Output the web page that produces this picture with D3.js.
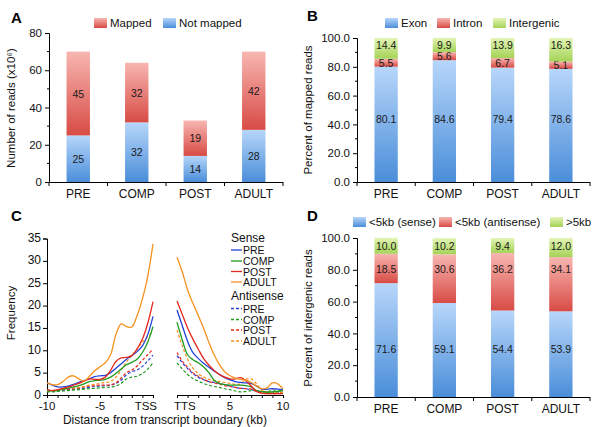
<!DOCTYPE html>
<html><head><meta charset="utf-8">
<script src="https://cdn.jsdelivr.net/npm/d3@7"></script>
<style>
html,body{margin:0;padding:0;background:#fff;}
svg{font-family:"Liberation Sans",Arial,sans-serif;}
</style></head>
<body><svg id="c" width="600" height="427"></svg>
<script>
// ---------- DATA ----------
const categories = ["PRE","COMP","POST","ADULT"];
// Panel A (x10^6 reads)
const notMapped = [25,32,14,28];
const mapped    = [45,32,19,42];
const ticksA = [0,20,40,60,80];
// Panel B (% of mapped reads)
const exon       = [80.1,84.6,79.4,78.6];
const intron     = [5.5,5.6,6.7,5.1];
const intergenic = [14.4,9.9,13.9,16.3];
const ticksPct = [0,20,40,60,80,100];
// Panel D (% of intergenic reads)
const senseNear     = [71.6,59.1,54.4,53.9];
const antisenseNear = [18.5,30.6,36.2,34.1];
const far5kb        = [10.0,10.2,9.4,12.0];
// Panel C (frequency), positions in kb
const kbLeft  = [-10,-9.5,-9,-8.5,-8,-7.5,-7,-6.5,-6,-5.5,-5,-4.5,-4,-3.5,-3,-2.5,-2,-1.5,-1,-0.5,0];
const kbRight = [0,0.5,1,1.5,2,2.5,3,3.5,4,4.5,5,5.5,6,6.5,7,7.5,8,8.5,9,9.5,10];
const senseLeft = {
  PRE:   [2.8,2.2,1.8,1.8,2.0,2.4,2.8,3.2,3.6,4.1,4.3,4.4,5.0,6.0,7.0,8.0,8.8,9.7,11.0,13.5,17.6],
  COMP:  [1.0,0.9,1.0,1.3,1.5,1.8,2.1,2.5,3.0,3.2,3.3,3.5,4.0,4.8,5.8,6.8,7.3,8.0,9.5,11.8,15.3],
  POST:  [1.2,1.0,1.2,1.5,1.8,2.2,2.6,3.1,3.6,3.5,3.5,4.0,5.5,7.5,8.3,8.4,8.8,10.3,12.5,16.0,20.9],
  ADULT: [2.7,2.3,2.3,3.0,4.0,4.3,3.6,3.1,4.2,5.4,6.3,7.2,9.0,13.5,15.9,15.3,15.2,17.8,21.5,26.5,33.8]
};
const antiLeft = {
  PRE:   [0.8,0.9,1.0,1.1,1.2,1.3,1.4,1.5,1.7,1.9,2.0,2.1,2.2,2.6,3.3,4.5,5.2,5.6,6.4,7.6,8.9],
  COMP:  [0.7,0.7,0.8,0.9,1.0,1.1,1.2,1.3,1.4,1.5,1.6,1.7,1.8,2.0,2.6,3.6,4.0,4.2,4.8,5.8,7.2],
  POST:  [1.1,1.0,1.1,1.2,1.3,1.4,1.6,1.8,2.0,2.1,2.2,2.2,2.3,2.7,3.8,5.0,5.6,6.5,7.8,9.0,10.3],
  ADULT: [1.0,1.0,1.1,1.3,1.5,1.6,1.7,1.9,2.2,2.4,2.6,2.8,3.0,4.0,5.6,7.4,8.8,10.3,11.8,13.0,14.2]
};
const senseRight = {
  PRE:   [19.0,15.5,12.0,9.5,8.2,7.1,6.2,5.4,4.6,3.9,3.4,3.0,2.8,2.7,2.6,2.0,1.3,1.3,1.4,1.3,1.2],
  COMP:  [16.3,12.3,9.0,7.9,7.2,6.3,5.0,3.3,2.6,2.3,2.2,2.2,2.2,2.1,1.8,1.0,0.7,0.6,0.7,0.8,1.0],
  POST:  [21.0,18.0,15.0,12.5,10.3,8.2,6.7,5.5,4.6,4.0,3.6,3.6,3.9,3.2,2.0,0.8,0.4,0.3,0.3,0.3,0.3],
  ADULT: [30.8,27.5,23.5,20.5,17.8,15.0,11.8,9.0,6.8,5.2,4.3,3.8,3.5,3.3,2.8,2.0,1.4,1.6,2.7,2.5,1.3]
};
const antiRight = {
  PRE:   [8.8,7.2,5.9,4.8,4.0,3.4,3.0,2.8,2.6,2.3,2.0,1.7,1.5,1.4,1.2,1.0,0.8,0.7,0.6,0.6,0.6],
  COMP:  [7.2,5.8,4.6,3.7,3.1,2.6,2.2,1.9,1.7,1.4,1.2,0.9,0.7,0.8,1.0,0.9,0.8,0.8,0.9,0.9,1.0],
  POST:  [9.5,7.6,6.2,5.0,4.2,3.5,3.0,2.7,2.4,2.1,1.9,1.7,1.5,1.4,1.3,0.8,0.4,0.3,0.3,0.3,0.3],
  ADULT: [14.5,11.0,8.0,6.0,4.8,4.0,3.5,3.2,3.0,2.8,2.6,2.4,2.5,3.5,3.6,2.5,1.0,0.6,0.6,0.6,0.6]
};
const ticksC = [0,5,10,15,20,25,30,35];
const boundaryLabels = ["TSS","TTS"];

// ---------- STYLE ----------
const lineColors = {PRE:"#2342d6",COMP:"#1e9a1e",POST:"#e5281e",ADULT:"#f5921f"};
const grad = {
  blue:  ["#b7d6fa","#4a8ed9"],
  red:   ["#f8b6b1","#d84b45"],
  green: ["#e3f5b5","#a5d257"]
};
const svg = d3.select("#c");
const defs = svg.append("defs");
Object.entries(grad).forEach(([k,[top,bot]])=>{
  const g = defs.append("linearGradient").attr("id","g-"+k).attr("x1",0).attr("y1",0).attr("x2",0).attr("y2",1);
  g.append("stop").attr("offset","0%").attr("stop-color",top);
  g.append("stop").attr("offset","100%").attr("stop-color",bot);
});
const FONT_TICK = 11.5, FONT_LBL = 10.5;
const FF = "Liberation Sans, Arial, sans-serif";

function panelLetter(t,x,y){
  svg.append("text").attr("x",x).attr("y",y).attr("font-size",15).attr("font-weight","bold").text(t);
}
function yTitle(t,x,y){
  svg.append("text").attr("transform",`translate(${x},${y}) rotate(-90)`).attr("text-anchor","middle")
    .attr("font-size",11.5).attr("fill","#111").text(t);
}
function legend(items,y){
  items.forEach(it=>{
    svg.append("rect").attr("x",it.x).attr("y",y-5).attr("width",13).attr("height",10).attr("fill",`url(#g-${it.c})`);
    svg.append("text").attr("x",it.x+16).attr("y",y+4).attr("font-size",11.5).attr("fill","#111").text(it.t);
  });
}

// stacked bar panel
function barPanel(opt){
  const x = d3.scaleBand().domain(categories).range([opt.x0,opt.x1]).paddingInner(0.6).paddingOuter(0.3);
  const y = d3.scaleLinear().domain([0,opt.max]).range([opt.y0,opt.y1]);
  const g = svg.append("g");
  const step = x.step();
  categories.forEach((c,i)=>{
    let base = 0;
    opt.series.forEach(s=>{
      const v = s.values[i];
      g.append("rect").attr("x",x(c)).attr("width",x.bandwidth())
        .attr("y",y(base+v)).attr("height",y(base)-y(base+v)).attr("fill",`url(#g-${s.c})`);
      const ly = s.labelAt!=null ? y(s.labelAt) : y(base+v/2);
      g.append("text").attr("x",x(c)+x.bandwidth()/2).attr("y",ly+4).attr("text-anchor","middle")
        .attr("font-size",FONT_LBL).attr("fill","#1a1a1a").text(opt.fmt(v));
      base += v;
    });
  });
  const ya = d3.axisLeft(y).tickValues(opt.ticks).tickFormat(opt.tickFmt).tickSize(4).tickPadding(3);
  const ag = svg.append("g").attr("transform",`translate(${opt.x0},0)`).call(ya);
  ag.selectAll("text").attr("font-size",FONT_TICK).attr("fill","#111").attr("font-family",FF);
  d3.range(opt.minor, opt.max, opt.minor*2).forEach(v=>{
    svg.append("line").attr("x1",opt.x0-2).attr("x2",opt.x0).attr("y1",y(v)).attr("y2",y(v)).attr("stroke","#000");
  });
  svg.append("line").attr("x1",opt.x0).attr("x2",opt.x1).attr("y1",opt.y0+0.5).attr("y2",opt.y0+0.5).attr("stroke","#000");
  for(let i=0;i<=categories.length;i++){
    const bx = opt.x0 + i*step;
    svg.append("line").attr("x1",bx).attr("x2",bx).attr("y1",opt.y0).attr("y2",opt.y0+4).attr("stroke","#000");
  }
  categories.forEach(c=>{
    svg.append("text").attr("x",x(c)+x.bandwidth()/2).attr("y",opt.y0+16).attr("text-anchor","middle")
      .attr("font-size",12).attr("fill","#111").text(c);
  });
}

// Panel A
panelLetter("A",11,23);
legend([{x:94,c:"red",t:"Mapped"},{x:163,c:"blue",t:"Not mapped"}],23);
yTitle("Number of reads (x10\u2076)",15,108);
barPanel({x0:49,x1:283,y0:182,y1:33,max:80,ticks:ticksA,tickFmt:d3.format("d"),minor:10,fmt:d3.format("d"),
  series:[{values:notMapped,c:"blue"},{values:mapped,c:"red"}]});

// Panel B
panelLetter("B",307,21);
legend([{x:385,c:"blue",t:"Exon"},{x:437,c:"red",t:"Intron"},{x:493,c:"green",t:"Intergenic"}],23);
yTitle("Percent of mapped reads",312,110);
barPanel({x0:357,x1:590,y0:182,y1:38,max:100,ticks:ticksPct,tickFmt:d3.format(".1f"),minor:10,fmt:d3.format(".1f"),
  series:[{values:exon,c:"blue",labelAt:44},{values:intron,c:"red"},{values:intergenic,c:"green",labelAt:95.3}]});

// Panel D
panelLetter("D",307,221);
legend([{x:353,c:"blue",t:"<5kb (sense)"},{x:439,c:"red",t:"<5kb (antisense)"},{x:550,c:"green",t:">5kb"}],222);
yTitle("Percent of intergenic reads",312,318);
barPanel({x0:357,x1:590,y0:397,y1:238,max:100,ticks:ticksPct,tickFmt:d3.format(".1f"),minor:10,fmt:d3.format(".1f"),
  series:[{values:senseNear,c:"blue",labelAt:30.5},{values:antisenseNear,c:"red",labelAt:80.4},{values:far5kb,c:"green",labelAt:95}]});

// Panel C
panelLetter("C",11,221);
yTitle("Frequency",15,313);
const yC = d3.scaleLinear().domain([0,35]).range([395,238.5]);
const xL = d3.scaleLinear().domain([-10,0]).range([47,153]);
const xR = d3.scaleLinear().domain([0,10]).range([177,283]);
const yAx = svg.append("g").attr("transform","translate(47,0)")
  .call(d3.axisLeft(yC).tickValues(ticksC).tickSize(4).tickPadding(2));
yAx.selectAll("text").attr("font-size",FONT_TICK+0.5).attr("fill","#111").attr("font-family",FF).attr("dy","0.25em");
const XLBL_Y = 409.5, XLBL_F = 11.5;
const xLa = svg.append("g").attr("transform","translate(0,395)")
  .call(d3.axisBottom(xL).tickValues(d3.range(-10,1,1)).tickSize(3).tickFormat(""));
const xRa = svg.append("g").attr("transform","translate(0,395)")
  .call(d3.axisBottom(xR).tickValues(d3.range(0,11,1)).tickSize(3).tickFormat(""));
[[xL,-10,"-10"],[xL,-5,"-5"],[xR,5,"5"],[xR,10,"10"]].forEach(([sc,v,t])=>{
  svg.append("text").attr("x",sc(v)).attr("y",XLBL_Y).attr("text-anchor","middle").attr("font-size",XLBL_F).attr("fill","#111").text(t);
});
svg.append("text").attr("x",xL(0)+4).attr("y",XLBL_Y).attr("text-anchor","end").attr("font-size",XLBL_F).attr("fill","#111").text(boundaryLabels[0]);
svg.append("text").attr("x",xR(0)-3).attr("y",XLBL_Y).attr("text-anchor","start").attr("font-size",XLBL_F).attr("fill","#111").text(boundaryLabels[1]);
svg.append("text").attr("x",165).attr("y",423.5).attr("text-anchor","middle").attr("font-size",12).attr("fill","#111")
  .text("Distance from transcript boundary (kb)");

const lineL = d3.line().x((d,i)=>xL(kbLeft[i])).y(d=>yC(d)).curve(d3.curveCatmullRom.alpha(0.5));
const lineR = d3.line().x((d,i)=>xR(kbRight[i])).y(d=>yC(d)).curve(d3.curveCatmullRom.alpha(0.5));
const order = ["PRE","COMP","POST","ADULT"];
order.forEach(k=>{
  svg.append("path").attr("d",lineL(antiLeft[k])).attr("fill","none").attr("stroke",lineColors[k]).attr("stroke-width",1.2).attr("stroke-dasharray","3,2");
  svg.append("path").attr("d",lineR(antiRight[k])).attr("fill","none").attr("stroke",lineColors[k]).attr("stroke-width",1.2).attr("stroke-dasharray","3,2");
});
order.forEach(k=>{
  svg.append("path").attr("d",lineL(senseLeft[k])).attr("fill","none").attr("stroke",lineColors[k]).attr("stroke-width",1.3);
  svg.append("path").attr("d",lineR(senseRight[k])).attr("fill","none").attr("stroke",lineColors[k]).attr("stroke-width",1.3);
});
// legend C
svg.append("text").attr("x",231).attr("y",242).attr("font-size",12).attr("fill","#111").text("Sense");
svg.append("text").attr("x",231).attr("y",300).attr("font-size",12).attr("fill","#111").text("Antisense");
const legY1 = [250,261,271.5,282], legY2 = [308.5,319.5,330,341];
order.forEach((k,i)=>{
  [[legY1[i],null],[legY2[i],"3,2"]].forEach(([yy,dash])=>{
    svg.append("line").attr("x1",231).attr("x2",242).attr("y1",yy).attr("y2",yy).attr("stroke",lineColors[k])
      .attr("stroke-width",1.3).attr("stroke-dasharray",dash);
    svg.append("text").attr("x",243).attr("y",yy+4).attr("font-size",10.5).attr("fill","#111").text(k);
  });
});
</script></body></html>
